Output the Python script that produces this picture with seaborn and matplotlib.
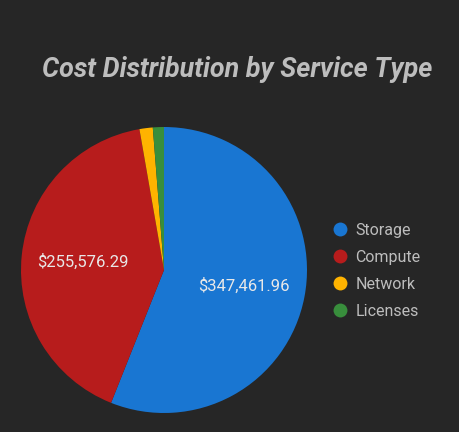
import numpy as np
import seaborn as sns
import matplotlib.pyplot as plt
from matplotlib.lines import Line2D

services = ["Storage", "Compute", "Network", "Licenses"]
costs = [347461.96, 255576.29, 9300.00, 7750.00]
colors = ["#1976D2", "#B71C1C", "#FFB300", "#388E3C"]

BG = "#262626"

sns.set_theme(style="dark")
plt.rcParams["font.family"] = ["Roboto", "DejaVu Sans"]

fig = plt.figure(figsize=(4.6, 4.32), dpi=100, facecolor=BG)
ax = fig.add_axes([21 / 460, 19 / 432, 286 / 460, 286 / 432])
ax.set_facecolor(BG)

palette = sns.color_palette(colors)
wedges, _ = ax.pie(
    costs,
    colors=palette,
    startangle=90,
    counterclock=False,
    radius=1,
    wedgeprops=dict(linewidth=0),
)
ax.set_xlim(-1, 1)
ax.set_ylim(-1, 1)
ax.set_aspect("equal")
ax.axis("off")

# only the big slices get a value label
total = sum(costs)
for w, val in zip(wedges, costs):
    if val / total < 0.05:
        continue
    mid = np.deg2rad((w.theta1 + w.theta2) / 2)
    ax.text(0.57 * np.cos(mid), 0.57 * np.sin(mid), "${:,.2f}".format(val),
            ha="center", va="center", color="#e8e8e8", fontsize=12)

fig.text(0.515, 0.839, "Cost Distribution by Service Type", ha="center",
         va="center", color="#bdbdbd", fontsize=19.4, fontweight="bold",
         fontstyle="italic")

handles = [Line2D([], [], marker="o", linestyle="", markersize=10,
                  markerfacecolor=c, markeredgewidth=0) for c in colors]
leg = fig.legend(handles, services, loc="center left",
                 bbox_to_anchor=(0.705, 0.373), frameon=False,
                 fontsize=11.5, labelcolor="#bdbdbd", handletextpad=0.35,
                 labelspacing=0.75, handlelength=1.2, borderaxespad=0)

fig.savefig("out.png", dpi=100, facecolor=BG)
